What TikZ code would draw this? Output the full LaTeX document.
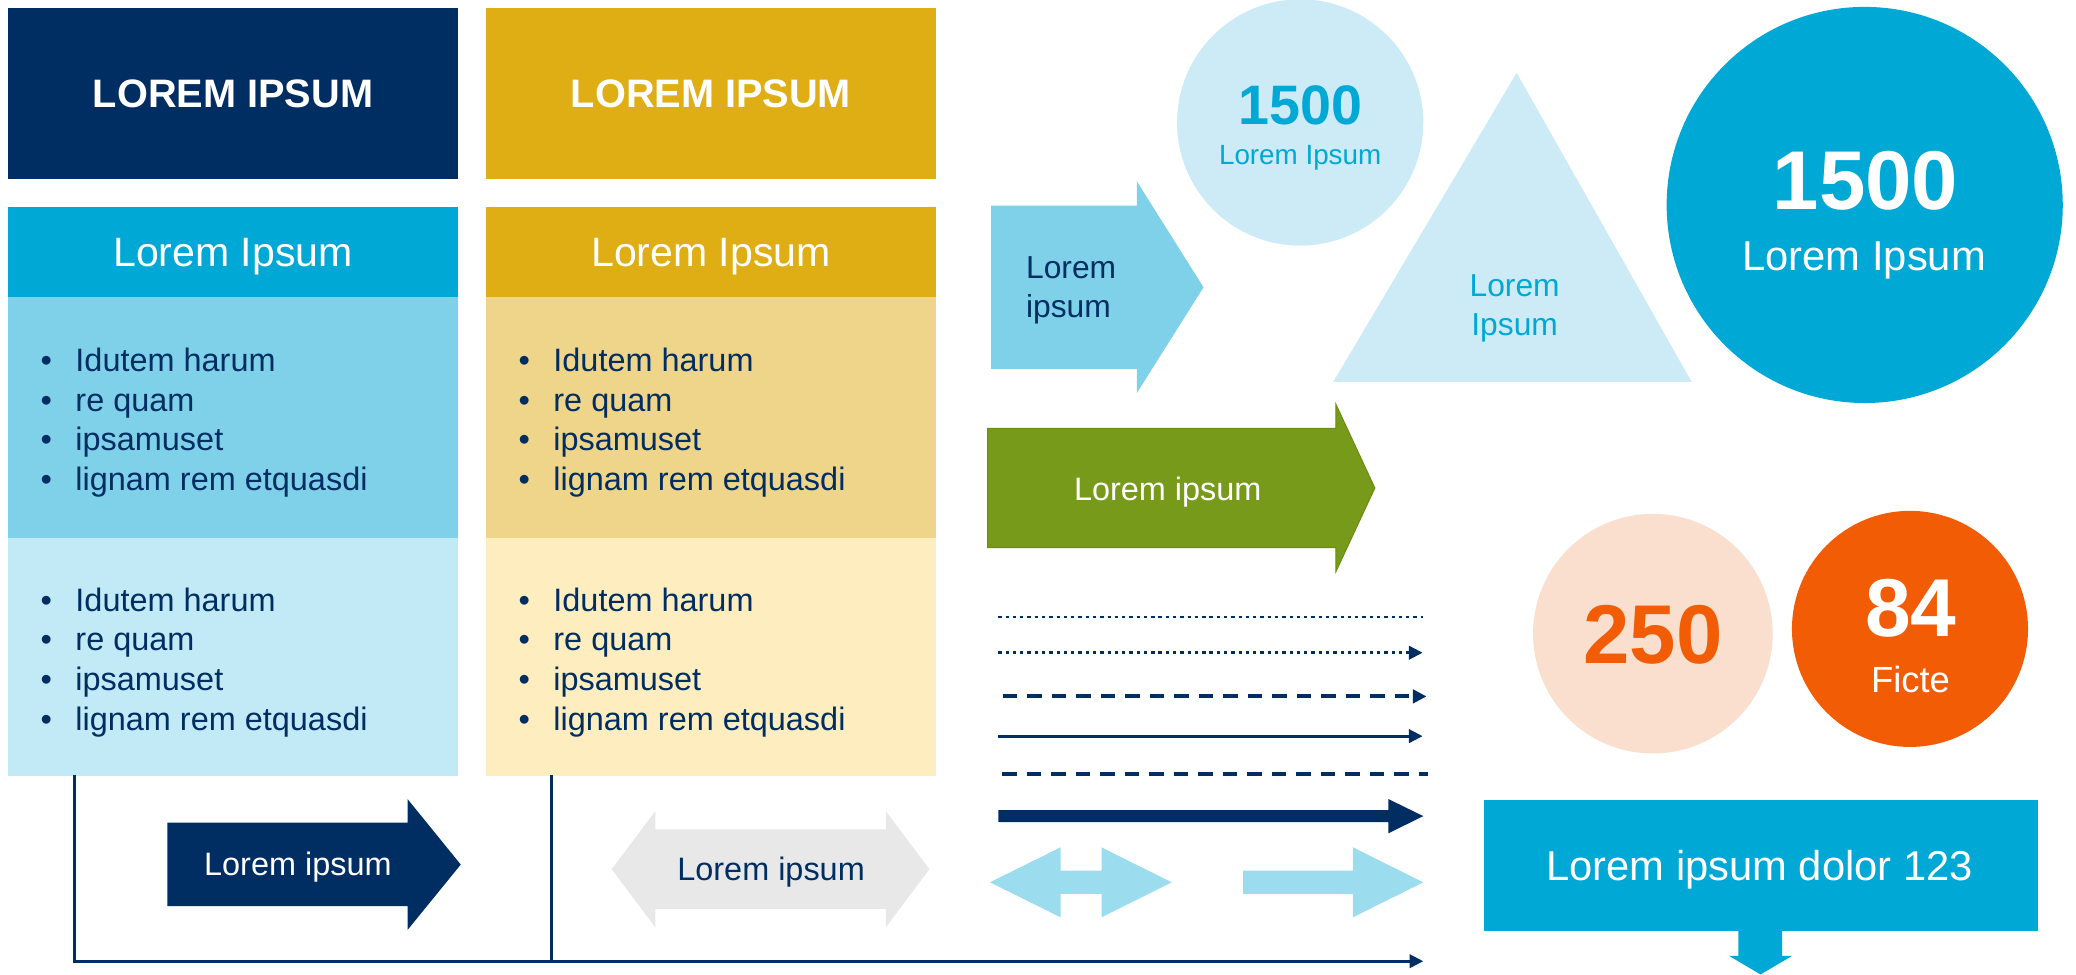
\documentclass[tikz,border=0pt]{standalone}
\usepackage{fontspec}
\setmainfont{Liberation Sans}
\usetikzlibrary{arrows.meta}
\definecolor{navy}{HTML}{002D62}
\definecolor{gold}{HTML}{DFAE15}
\definecolor{cyanb}{HTML}{00A8D6}
\definecolor{lblue}{HTML}{7FD1EA}
\definecolor{llblue}{HTML}{C1E9F6}
\definecolor{lgold}{HTML}{EFD58A}
\definecolor{cream}{HTML}{FEEDBE}
\definecolor{pale}{HTML}{CCEBF6}
\definecolor{greenb}{HTML}{789A1A}
\definecolor{greend}{HTML}{6A8E10}
\definecolor{arrowblue}{HTML}{9BDCEF}
\definecolor{peach}{HTML}{FADFCF}
\definecolor{orangeb}{HTML}{F25C05}
\definecolor{grayb}{HTML}{E8E8E8}
\newcommand\setfs[1]{\fontsize{#1}{#1}\selectfont}
\newcommand\bul[1]{\makebox[26.3pt][l]{•}#1}
\begin{document}
\begin{tikzpicture}[x=1pt,y=-1pt,
  box/.style={inner sep=0pt, outer sep=0pt, anchor=north west},
  lbl/.style={inner sep=0pt, outer sep=0pt, anchor=base},
  bline/.style={inner sep=0pt, outer sep=0pt, anchor=base west, text=navy, font=\setfs{24.5}},
  dot/.style={circle, inner sep=0pt, outer sep=0pt},
  conn/.style={draw=navy, line width=2.2pt},
  tipn/.style={-{Triangle[length=10.3pt,width=10pt]}},
  dotline/.style={draw=navy, line width=2.2pt, dash pattern=on 2.5pt off 3pt},
  dashline/.style={draw=navy, line width=3pt, dash pattern=on 11pt off 7.5pt}
]
\useasboundingbox (0,0) rectangle (1568,735.7);

% top boxes
\node[box, fill=navy, minimum width=340pt, minimum height=129pt] (boxA) at (6,6) {};
\node[box, fill=gold, minimum width=340pt, minimum height=129pt] (boxB) at (367,6) {};
\node[lbl, text=white, font=\setfs{30}\bfseries] (tA) at (176,81) {LOREM IPSUM};
\node[lbl, text=white, font=\setfs{30}\bfseries] (tB) at (537,81) {LOREM IPSUM};

% header boxes
\node[box, fill=cyanb, minimum width=340pt, minimum height=68pt] (hC) at (6,156) {};
\node[box, fill=gold, minimum width=340pt, minimum height=68pt] (hD) at (367,156) {};
\node[lbl, text=white, font=\setfs{31}] (thC) at (176,201) {Lorem Ipsum};
\node[lbl, text=white, font=\setfs{31}] (thD) at (537,201) {Lorem Ipsum};

% body boxes
\node[box, fill=lblue, minimum width=340pt, minimum height=182pt] (c1) at (6,224) {};
\node[box, fill=lgold, minimum width=340pt, minimum height=182pt] (d1) at (367,224) {};
\node[box, fill=llblue, minimum width=340pt, minimum height=180pt] (c2) at (6,406) {};
\node[box, fill=cream, minimum width=340pt, minimum height=180pt] (d2) at (367,406) {};

\foreach \t [count=\i] in {Idutem harum, re quam, ipsamuset, lignam rem etquasdi} {
  \node[bline] (c1l\i) at (30.7, 250.5+30*\i) {\bul{\t}};
  \node[bline] (d1l\i) at (391.7, 250.5+30*\i) {\bul{\t}};
  \node[bline] (c2l\i) at (30.7, 431.5+30*\i) {\bul{\t}};
  \node[bline] (d2l\i) at (391.7, 431.5+30*\i) {\bul{\t}};
}

% connector lines at bottom left
\coordinate (v1) at (56.5,585);
\coordinate (v2) at (416.3,585);
\coordinate (bend) at (1075,726);
\draw[conn, tipn] (v1) |- (bend);
\draw[conn] (v2) -- (v2 |- bend);

% navy block arrow
\fill[navy] (126.5,621.4) -- (307.8,621.4) -- (307.8,603.5) -- (348,653) -- (307.8,702.4) -- (307.8,684.3) -- (126.5,684.3) -- cycle;
\node[lbl, text=white, font=\setfs{24.5}] (tnav) at (225,661.6) {Lorem ipsum};

% gray double arrow
\fill[grayb] (462,656.5) -- (495,612.5) -- (495,626.5) -- (669,626.5) -- (669,612.5) -- (702,656.5) -- (669,700.5) -- (669,686.5) -- (495,686.5) -- (495,700.5) -- cycle;
\node[lbl, text=navy, font=\setfs{24.5}] (tgray) at (582.4,665.2) {Lorem ipsum};

% light blue arrow
\fill[lblue] (748.5,155.4) -- (858.7,155.4) -- (858.7,137) -- (909,217) -- (858.7,296.8) -- (858.7,278.6) -- (748.5,278.6) -- cycle;
\node[lbl, anchor=base west, text=navy, font=\setfs{24}] (tlb1) at (775,210) {Lorem};
\node[lbl, anchor=base west, text=navy, font=\setfs{24}] (tlb2) at (775,240) {ipsum};

% small circle
\node[dot, fill=pale, minimum size=186pt] (cs) at (982,92.5) {};
\node[lbl, text=cyanb, font=\setfs{42}\bfseries] (tcs1) at (982,94.4) {1500};
\node[lbl, text=cyanb, font=\setfs{21}] (tcs2) at (982,124) {Lorem Ipsum};

% triangle
\fill[pale] (1007,288.4) -- (1145.5,55) -- (1277.7,288.4) -- cycle;
\node[lbl, text=cyanb, font=\setfs{24}] (ttr1) at (1144,223.6) {Lorem};
\node[lbl, text=cyanb, font=\setfs{24}] (ttr2) at (1144,253.7) {Ipsum};

% big circle
\node[dot, fill=cyanb, minimum size=299.2pt] (cb) at (1408.4,154.8) {};
\node[lbl, text=white, font=\setfs{63}\bfseries] (tcb1) at (1409,158.6) {1500};
\node[lbl, text=white, font=\setfs{31.5}] (tcb2) at (1408,204.5) {Lorem Ipsum};

% green arrow
\filldraw[fill=greenb, draw=greend, line width=0.8pt] (746,323.6) -- (1009,323.6) -- (1009,305.4) -- (1038.4,368.6) -- (1009,431.7) -- (1009,413.5) -- (746,413.5) -- cycle;
\node[lbl, text=white, font=\setfs{24.5}] (tgr) at (882,377.8) {Lorem ipsum};

% line samples
\coordinate (l1s) at (754,466);   \coordinate (l1e) at (1075,466);
\coordinate (l2s) at (754,493);   \coordinate (l2e) at (1074.5,493);
\coordinate (l3s) at (757.3,526); \coordinate (l3e) at (1077.5,526);
\coordinate (l4s) at (754,556);   \coordinate (l4e) at (1074.5,556);
\coordinate (l5s) at (757,584.4); \coordinate (l5e) at (1078.6,584.4);
\draw[dotline] (l1s) -- (l1e);
\draw[dotline, tipn] (l2s) -- (l2e);
\draw[dashline, -{Triangle[length=10.3pt,width=10pt]}] (l3s) -- (l3e);
\draw[conn, tipn] (l4s) -- (l4e);
\draw[dashline] (l5s) -- (l5e);
\fill[navy] (754,611.8) -- (1048.6,611.8) -- (1048.6,603.5) -- (1075,616.4) -- (1048.6,629.4) -- (1048.6,621) -- (754,621) -- cycle;

% light blue block arrows
\fill[arrowblue] (747.7,666.4) -- (801,640) -- (801,657.6) -- (832,657.6) -- (832,640) -- (885,666.4) -- (832,692.8) -- (832,675.2) -- (801,675.2) -- (801,692.8) -- cycle;
\fill[arrowblue] (939,657.6) -- (1021.9,657.6) -- (1021.9,640) -- (1075,666.4) -- (1021.9,692.8) -- (1021.9,675.2) -- (939,675.2) -- cycle;

% orange circles
\node[dot, fill=peach, minimum size=181pt] (c250) at (1248.4,478.6) {};
\node[lbl, text=orangeb, font=\setfs{63}\bfseries] (t250) at (1248.5,501.5) {250};
\node[dot, fill=orangeb, minimum size=178.3pt] (c84) at (1442.6,475) {};
\node[lbl, text=white, font=\setfs{62}\bfseries] (t84) at (1443.2,480.9) {84};
\node[lbl, text=white, font=\setfs{27.5}] (tfic) at (1443,523.2) {Ficte};

% callout box
\node[box, fill=cyanb, minimum width=418.5pt, minimum height=99pt] (call) at (1120.5,604) {};
\fill[cyanb] (1313,702) -- (1346,702) -- (1346,722) -- (1353.5,722) -- (1329.7,736) -- (1306,722) -- (1313,722) -- cycle;
\node[lbl, text=white, font=\setfs{31.5}] (tcall) at (1329,664.7) {Lorem ipsum dolor 123};
\end{tikzpicture}
\end{document}
